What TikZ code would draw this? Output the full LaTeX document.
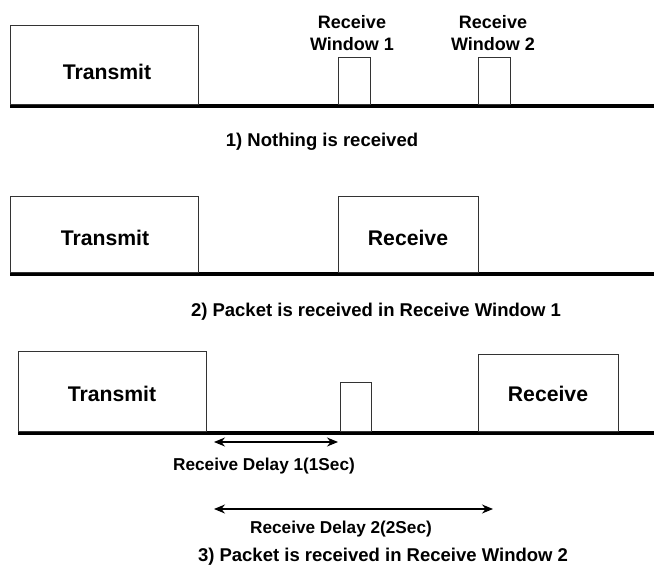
\documentclass[tikz,border=0pt]{standalone}
\usepackage{fontspec}
\setmainfont{Liberation Sans}
\usetikzlibrary{arrows.meta}
\begin{document}
\begin{tikzpicture}[x=1pt,y=-1pt,
  box/.style={draw=black!80, line width=1.1pt, anchor=south west, inner sep=0pt, fill=white},
  base/.style={line width=3.5pt, black},
  big/.style={font=\bfseries\fontsize{21.2}{25}\selectfont},
  wlab/.style={font=\bfseries\fontsize{18}{22}\selectfont, align=center},
  captext/.style={font=\bfseries\fontsize{18.5}{22}\selectfont},
  dlab/.style={font=\bfseries\fontsize{17.2}{20}\selectfont},
  dim/.style={line width=1.2pt, {Stealth[length=11pt,width=9pt]}-{Stealth[length=11pt,width=9pt]}}]
\useasboundingbox (0,0) rectangle (654,566);
% ---------- panel 1
\coordinate (l1a) at (10,106);
\coordinate (l1b) at (654,106);
\draw[base] (l1a) -- (l1b);
\node[box, minimum width=188pt, minimum height=79pt] (t1) at (10,105) {};
\node[big] (t1t) at (107,72) {Transmit};
\node[box, minimum width=32pt, minimum height=47pt] (w1) at (338,105) {};
\node[box, minimum width=32pt, minimum height=47pt] (w2) at (478,105) {};
\node[wlab] (w1l) at (352,33) {Receive\\[0pt]Window 1};
\node[wlab] (w2l) at (493,33) {Receive\\[0pt]Window 2};
\node[captext] (c1) at (322,142) {1) Nothing is received};
% ---------- panel 2
\coordinate (l2a) at (10,274);
\coordinate (l2b) at (654,274);
\draw[base] (l2a) -- (l2b);
\node[box, minimum width=188pt, minimum height=76pt] (t2) at (10,273) {};
\node[big] (t2t) at (105,238) {Transmit};
\node[box, minimum width=140pt, minimum height=76pt] (r2) at (338,273) {};
\node[big] (r2t) at (408,238) {Receive};
\node[captext] (c2) at (376,312) {2) Packet is received in Receive Window 1};
% ---------- panel 3
\coordinate (l3a) at (18,433);
\coordinate (l3b) at (654,433);
\draw[base] (l3a) -- (l3b);
\node[box, minimum width=188pt, minimum height=80pt] (t3) at (18,432) {};
\node[big] (t3t) at (112,394) {Transmit};
\node[box, minimum width=31pt, minimum height=49pt] (w3) at (340,432) {};
\node[box, minimum width=140pt, minimum height=77pt] (r3) at (478,432) {};
\node[big] (r3t) at (548,394) {Receive};
\coordinate (d1a) at (214,442);
\coordinate (d1b) at (338,442);
\draw[dim] (d1a) -- (d1b);
\node[dlab] (d1l) at (264,466) {Receive Delay 1(1Sec)};
\coordinate (d2a) at (214,509);
\coordinate (d2b) at (493,509);
\draw[dim] (d2a) -- (d2b);
\node[dlab] (d2l) at (341,529) {Receive Delay 2(2Sec)};
\node[captext] (c3) at (383,557) {3) Packet is received in Receive Window 2};
\end{tikzpicture}
\end{document}
